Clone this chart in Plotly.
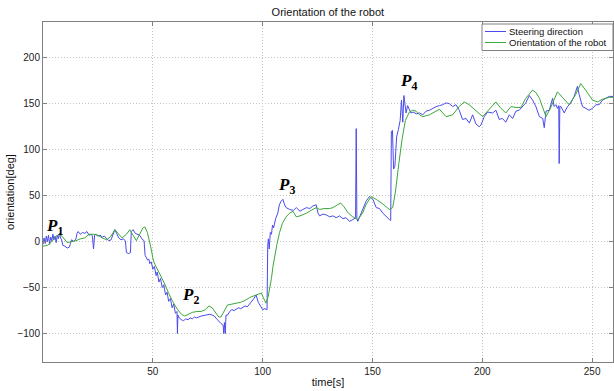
import plotly.graph_objects as go

# ---------------- data ----------------
steer_t = [0, 0.5, 1, 1.5, 2, 2.5, 3, 3.5, 4, 4.5, 5, 5.5, 6, 6.5, 7, 7.5, 8, 8.5,
           9, 10, 11, 12, 12.5, 13, 14, 15, 15.5, 16, 17, 18, 19, 20, 21, 22, 22.5, 23, 23.5,
           24, 25, 26, 27, 28, 29, 30, 31, 32, 32.7, 33.5, 34.5, 35.5, 36.5, 37.5, 38, 39, 39.8,
           40.2, 41, 42, 43, 44, 45, 46, 46.5, 47, 47.6, 48.2, 48.6,
           49.3, 50, 50.7, 51.5, 52, 52.8, 53.5, 54.3, 55, 55.8, 56.5, 57.2, 58, 58.8, 59.5, 60.3,
           61, 61.2, 61.4, 62, 63, 64, 65, 66, 67, 68, 69, 70, 72, 74, 76, 77, 78, 79, 80, 81, 82,
           82.3, 82.6, 83, 83.3, 84, 85, 86, 87, 88, 89, 90, 91, 92, 93, 94, 95, 96, 97, 98, 99,
           100, 101, 102, 102.3, 102.6, 103, 103.5, 104, 104.5, 105, 105.9, 106.9, 107.6, 108.4,
           109.2, 110, 110.7, 112.3, 114, 115.3, 117, 118.3, 120, 121.4, 123, 124.4, 125.2, 125.9,
           127.5, 129, 130.5, 132, 133.5, 135, 136.5, 138, 139.5, 141.1, 142.3, 142.6, 142.9, 143.3,
           144.1, 145.6, 147.1, 148.6, 150.2, 151.7, 153.2, 154.7, 156.2, 157.7, 158.3, 158.6,
           159.1, 159.6, 160.2, 161, 161.8, 162.6, 163.2, 163.8, 164.3, 164.8, 165.3, 166, 166.8,
           167.5, 168.5, 170, 171.4, 172.9, 174.4, 176, 177.5, 179, 180.5, 182, 183.5, 185, 186.5,
           188, 189.5, 191, 192.6, 194.1, 195.6, 197.1, 198.6, 199.4, 200.9, 202.4, 204.7, 206.2,
           207.7, 209.2, 210.7, 212.3, 213.8, 215.3, 216.8, 218.3, 219.8, 221.4, 222.9, 224.4, 226,
           227.5, 228.2, 229, 230.5, 232, 232.7, 233.5, 234.2, 234.8, 235, 235.3, 235.8, 237.3,
           238.8, 240.3, 241.8, 243.3, 244.1, 245.6, 247.1, 248.6, 250.2, 251.7, 253.2, 254.7,
           256.2, 257.8, 259.5]
steer_deg = [-3, 4, -2, 6, 0, 7, -3, 5, 1, 8, 2, 6, -1, 7, 3, 9, 4, 2,
             -4, -5, -7, -6, -2, 2, 0, 3, 9, 11, 8, 10, 9, 11, 7, 8, 6, -8, 7,
             8, 6, 7, 5, 6, 3, 1, 2, 10, 13, 9, 4, 2, 3, 1, -12, -13, -12,
             11, 13, 9, 8, 7, 3, 1, -15, -18, -20, -19, -24,
             -22, -30, -27, -37, -33, -44, -40, -50, -47, -58, -55, -65, -62, -72, -68, -78,
             -76, -100, -80, -83, -85, -86, -84, -85, -83, -84, -82, -83, -81, -80, -79, -80, -81, -84, -87, -89, -91,
             -100, -88, -100, -80, -80, -76, -74, -75, -73, -72, -73, -71, -70, -71, -68, -66, -62, -58, -66, -70,
             -74, -73, -74, -5, 3, -8, 10, 8, 18, 15, 25, 31, 40, 44,
             46, 40, 37, 35, 34, 37, 33, 35, 37, 36, 39, 40, 31, 28,
             30, 29, 27, 28, 26, 28, 25, 26, 22, 24, 26, 123, 25, 22,
             27, 35, 44, 49, 46, 37, 36, 31, 27, 24, 23, 120,
             121, 79, 82, 114, 122, 132, 154, 130, 159, 147, 140, 148, 143,
             140, 141, 139, 140, 138, 142, 143, 145, 147, 148, 149, 151, 150, 147,
             149, 143, 133, 134, 129, 138, 128, 125, 127, 136, 141, 140, 143,
             133, 134, 130, 138, 134, 142, 143, 147, 151, 159, 154, 147, 136,
             134, 124, 142, 143, 156, 147, 149, 145, 148, 85, 147, 147, 140,
             147, 151, 158, 169, 160, 147, 145, 143, 145, 149, 149, 154,
             156, 158, 158]

orient_t = [0, 2, 4, 6, 7.5, 9, 11, 13, 15, 17, 19, 21, 23, 25, 27, 29, 31, 32.7, 34.5, 36,
            38, 39.5, 41, 42.5, 44, 45.5, 46.4, 47.5, 49, 50.2, 51, 53, 55, 57, 59, 61, 63, 64.5,
            66, 68, 70, 72, 74, 75.5, 77, 78.5, 80, 81, 82.5, 84, 86, 88, 90, 92, 94, 96, 98, 99.4,
            100.5, 101.5, 102.5, 103.2, 104, 104.7, 105.5, 106.5, 107.7, 109, 110.7, 112.3, 113.8,
            115.3, 117, 118.3, 120, 122, 124.4, 126, 128, 130.5, 132, 134, 135.5, 137, 139, 141,
            143.3, 145.5, 147, 149.4, 151.7, 154.7, 157.7, 159.2, 160.5, 162, 163.5, 165, 166.8,
            168.3, 169.8, 171.4, 172.9, 175.9, 179, 180.5, 183.5, 186.5, 189.5, 191.8, 194, 197,
            200.2, 202, 204, 206.2, 208.5, 210.7, 213, 215.3, 217.5, 219.8, 222.9, 224.5, 226, 229,
            231, 234.2, 236.5, 239.5, 242.5, 244.8, 247, 250.2, 252.5, 254.7, 257.8, 259.5]
orient_deg = [-5, -4, 0, 6, 8, 5, -1, 0, 1, 3, 4, 8, 8, 7, 4, 2, 6, 13, 8, 4,
              8, 13, 7, 1, 8, 15, 16, 10, -5, -20, -25, -34, -44, -55, -65, -73, -79, -81,
              -79, -77, -76, -76, -74, -70, -72, -77, -82, -82, -76, -69, -68, -67, -66, -64, -61, -59, -57, -56,
              -62, -67, -60, -52, -40, -27, -15, -3, 10, 20, 27, 31, 33,
              27, 28, 29, 31, 34, 37, 35, 36, 36, 37, 40, 42, 38, 31, 27,
              24, 31, 40, 49, 46, 41, 35, 37, 55, 85, 112, 132, 141,
              143, 142, 138, 136, 138, 142, 144, 136, 138, 147, 152, 149, 143,
              136, 141, 146, 152, 145, 140, 147, 146, 146, 156, 165, 162, 156, 136,
              145, 163, 157, 149, 160, 172, 165, 154, 152, 155, 157, 157]

x_ticks = [50, 100, 150, 200, 250]
y_ticks = [-100, -50, 0, 50, 100, 150, 200]

series_names = ["Steering direction", "Orientation of the robot"]
series_colors = ["#4a4aec", "#3aa83a"]

# point labels: (time, deg, subscript)
p_time = [0.5, 62.3, 106.0, 161.4]
p_deg = [16, -59, 61, 174]
p_sub = ["1", "2", "3", "4"]

# ---------------- figure ----------------
FONT = "Liberation Sans, Arial, sans-serif"
fig = go.Figure()
fig.add_trace(go.Scatter(x=steer_t, y=steer_deg, mode="lines", name=series_names[0],
                         line=dict(color=series_colors[0], width=1), showlegend=False))
fig.add_trace(go.Scatter(x=orient_t, y=orient_deg, mode="lines", name=series_names[1],
                         line=dict(color=series_colors[1], width=1), showlegend=False))

for t, d, s in zip(p_time, p_deg, p_sub):
    fig.add_annotation(x=t, y=d, xref="x", yref="y", showarrow=False,
                       xanchor="left", yanchor="middle",
                       text=f"<b><i>P</i></b><sub><b>{s}</b></sub>",
                       font=dict(family="Liberation Serif, DejaVu Serif, serif", size=17, color="black"))

# compact legend box (top-right corner of the plot area), in paper coordinates
PW, PH = 570.0, 340.0          # plot-area size in px
def px_x(px):                   # pixel (from plot left) -> paper x
    return px / PW
def px_y(py):                   # pixel (from plot top) -> paper y
    return 1 - py / PH

fig.add_shape(type="rect", xref="paper", yref="paper",
              x0=px_x(439), x1=px_x(570), y0=px_y(2), y1=px_y(28.5),
              line=dict(color="#808080", width=1), fillcolor="white", layer="above")
for i, (nm, col) in enumerate(zip(series_names, series_colors)):
    yy = px_y(9.5 + 11 * i)
    fig.add_shape(type="line", xref="paper", yref="paper",
                  x0=px_x(442), x1=px_x(463), y0=yy, y1=yy,
                  line=dict(color=col, width=1), layer="above")
    fig.add_annotation(x=px_x(464), y=yy, xref="paper", yref="paper", showarrow=False,
                       xanchor="left", yanchor="middle", text=nm,
                       font=dict(family=FONT, size=9.5, color="#111111"))

axis_common = dict(showline=True, linecolor="#808080", linewidth=1, mirror="ticks",
                   ticks="inside", ticklen=4, tickcolor="#808080",
                   showgrid=True, gridcolor="#c4c4c4", griddash="1px,2px", gridwidth=1,
                   zeroline=False, tickfont=dict(family=FONT, size=10, color="#222222"))

fig.update_layout(
    width=614, height=391,
    margin=dict(l=43, r=1, t=22, b=29),
    paper_bgcolor="white", plot_bgcolor="white",
    title=dict(text="Orientation of the robot", x=0.534, xanchor="center", y=0.97, yanchor="middle",
               font=dict(family=FONT, size=11, color="#111111")),
    xaxis=dict(range=[0, 259.5], tickvals=x_ticks,
               title=dict(text="time[s]", standoff=2, font=dict(family=FONT, size=11, color="#111111")),
               **axis_common),
    yaxis=dict(range=[-131, 239], tickvals=y_ticks,
               title=dict(text="orientation[deg]", standoff=0, font=dict(family=FONT, size=11, color="#111111")),
               **axis_common),
    showlegend=False,
)

fig.write_html("out.html")
